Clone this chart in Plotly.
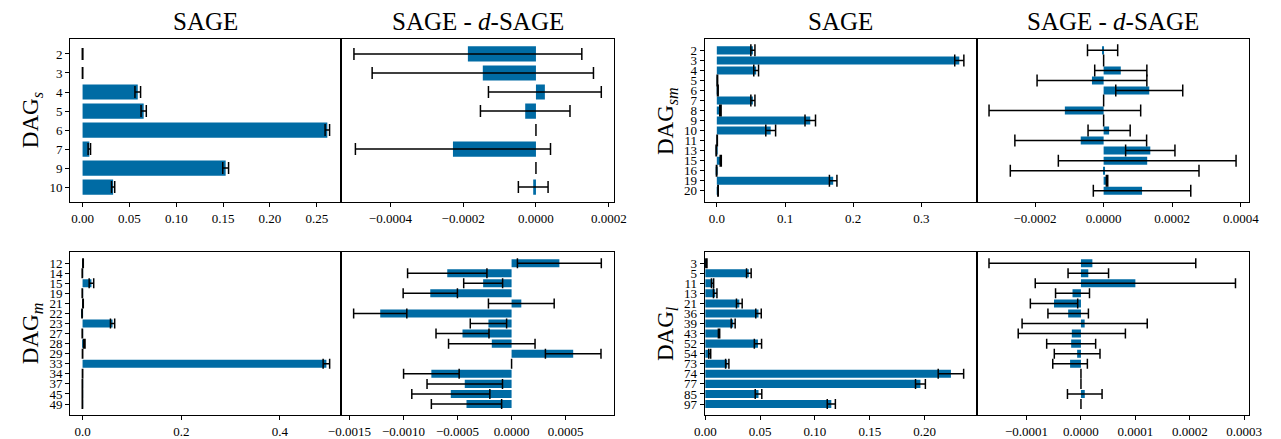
import plotly.graph_objects as go

# ---------------- data ----------------
# DAG_s
s_labels = ["2", "3", "4", "5", "6", "7", "9", "10"]
s_sage = [0.0, 0.0, 0.0589, 0.0652, 0.2612, 0.0072, 0.1527, 0.0326]
s_sage_err = [0.0003, 0.0002, 0.0030, 0.0028, 0.0024, 0.0013, 0.0031, 0.0017]
s_diff = [-0.000187, -0.000146, 0.0000245, -0.0000295, 0.0, -0.000228, 0.0, -0.0000075]
s_diff_err = [0.000313, 0.000304, 0.000155, 0.000123, 0.0, 0.000268, 0.0, 0.0000408]

# DAG_sm
sm_labels = ["2", "3", "4", "5", "6", "7", "8", "9", "10", "11", "13", "15", "16", "19", "20"]
sm_sage = [0.0529, 0.3555, 0.0577, 0.0008, 0.0015, 0.0529, 0.0053, 0.1370, 0.0790,
           0.0005, -0.0008, 0.0058, -0.0003, 0.1706, 0.0018]
sm_sage_err = [0.0030, 0.0067, 0.0035, 0.0004, 0.0005, 0.0030, 0.0010, 0.0077, 0.0072,
               0.0003, 0.0003, 0.0008, 0.0003, 0.0055, 0.0003]
sm_diff = [-0.000003, 0.0, 0.00005, -0.000034, 0.000133, 0.0, -0.000113, 0.0, 0.000016,
           -0.0000667, 0.000136, 0.000127, 0.000003, 0.00001, 0.000112]
sm_diff_err = [0.000044, 0.0, 0.000076, 0.00016, 0.0000976, 0.0, 0.000221, 0.0, 0.0000614,
               0.000192, 0.0000719, 0.000259, 0.000275, 0.000002, 0.000142]

# DAG_m
m_labels = ["12", "14", "15", "19", "21", "22", "23", "27", "28", "29", "33", "34", "37", "45", "49"]
m_sage = [0.001, -0.0005, 0.018, -0.0005, 0.001, -0.001, 0.0608, -0.0005, 0.0035, 0.0,
          0.494, 0.0, -0.0003, -0.0003, -0.0003]
m_sage_err = [0.0005, 0.0003, 0.0046, 0.0003, 0.0005, 0.0003, 0.0043, 0.0003, 0.0015, 0.0003,
              0.0066, 0.0003, 0.0003, 0.0003, 0.0003]
m_diff = [0.000442, -0.000595, -0.000263, -0.000752, 0.00009, -0.001215, -0.000214, -0.000454,
          -0.000183, 0.00057, 0.0, -0.000742, -0.000433, -0.000562, -0.000417]
m_diff_err = [0.000388, 0.000367, 0.00018, 0.000251, 0.000304, 0.000246, 0.000168, 0.000245,
              0.0004, 0.000257, 0.0, 0.000257, 0.000349, 0.000361, 0.000325]

# DAG_l
l_labels = ["3", "5", "11", "13", "21", "36", "39", "43", "52", "54", "73", "74", "77", "85", "97"]
l_sage = [0.001, 0.0397, 0.0066, 0.009, 0.031, 0.0485, 0.0254, 0.0125, 0.048, 0.004, 0.020,
          0.224, 0.1962, 0.0485, 0.1149]
l_sage_err = [0.0005, 0.0021, 0.0010, 0.0016, 0.0026, 0.0025, 0.0018, 0.0006, 0.0033, 0.0009,
              0.0015, 0.0116, 0.0045, 0.0030, 0.0037]
l_diff = [0.000021, 0.0000135, 0.0001, -0.0000155, -0.0000495, -0.0000235, 0.0000068, -0.0000168,
          -0.000018, -0.000007, -0.00002, 0.0, 0.0, 0.000007, 0.0]
l_diff_err = [0.00019, 0.0000372, 0.000184, 0.0000312, 0.0000435, 0.0000372, 0.000115, 0.0000985,
              0.000045, 0.000042, 0.0000318, 0.0, 0.0, 0.0000318, 0.0]

# ---------------- style / layout ----------------
BLUE = "#006BA4"
FONT = "Liberation Serif"
W, H = 1281, 439

panels = [
    dict(labels=s_labels, sage=s_sage, sage_err=s_sage_err, diff=s_diff, diff_err=s_diff_err,
         ylabel="DAG<sub><i>s</i></sub>", x0=58.3, x1=335, x2=613.3, top=39.3, bottom=204,
         srange=[-0.0133, 0.276], sdtick=0.05, sfmt=".2f",
         drange=[-0.000535, 0.000214], ddtick=0.0002, dfmt=".4f", cap=6, ylab_x=19, title=True),
    dict(labels=sm_labels, sage=sm_sage, sage_err=sm_sage_err, diff=sm_diff, diff_err=sm_diff_err,
         ylabel="DAG<sub><i>sm</i></sub>", x0=706, x1=984, x2=1261.7, top=39.3, bottom=204,
         srange=[-0.0178, 0.3815], sdtick=0.1, sfmt=".1f",
         drange=[-0.000369, 0.000424], ddtick=0.0002, dfmt=".4f", cap=6, ylab_x=667, title=True),
    dict(labels=m_labels, sage=m_sage, sage_err=m_sage_err, diff=m_diff, diff_err=m_diff_err,
         ylabel="DAG<sub><i>m</i></sub>", x0=58.3, x1=335, x2=613.3, top=254, bottom=419.3,
         srange=[-0.0252, 0.524], sdtick=0.2, sfmt=".1f",
         drange=[-0.001576, 0.000946], ddtick=0.0005, dfmt=".4f", cap=5, ylab_x=19, title=False),
    dict(labels=l_labels, sage=l_sage, sage_err=l_sage_err, diff=l_diff, diff_err=l_diff_err,
         ylabel="DAG<sub><i>l</i></sub>", x0=706, x1=984, x2=1261.7, top=254, bottom=419.3,
         srange=[-0.0006, 0.2478], sdtick=0.05, sfmt=".2f",
         drange=[-0.000191, 0.000309], ddtick=0.0001, dfmt=".4f", cap=5, ylab_x=667, title=False),
]

fig = go.Figure()
layout = dict(
    width=W, height=H,
    margin=dict(l=0, r=0, t=0, b=0),
    paper_bgcolor="white", plot_bgcolor="white",
    font=dict(family=FONT, size=13, color="black"),
    showlegend=False,
    annotations=[],
)

tickfont = dict(family=FONT, size=13, color="black")


def axis_common():
    return dict(showgrid=False, zeroline=False, showline=True, mirror=True,
                linecolor="black", linewidth=1, tickcolor="black", tickwidth=1,
                ticklen=4, tickfont=tickfont)


for i, p in enumerate(panels):
    n = len(p["labels"])
    pad = 0.4 + 0.05 * (n - 0.2)
    yrange = [n - 1 + pad, -pad]
    ydom = [1 - p["bottom"] / H, 1 - p["top"] / H]
    for j, kind in enumerate(["sage", "diff"]):
        k = 2 * i + j + 1
        xname = "xaxis" if k == 1 else f"xaxis{k}"
        yname = "yaxis" if k == 1 else f"yaxis{k}"
        xref = "x" if k == 1 else f"x{k}"
        yref = "y" if k == 1 else f"y{k}"
        if kind == "sage":
            dom = [p["x0"] / W, p["x1"] / W]
            xr, dt, fmt = p["srange"], p["sdtick"], p["sfmt"]
        else:
            dom = [p["x1"] / W, p["x2"] / W]
            xr, dt, fmt = p["drange"], p["ddtick"], p["dfmt"]
        xa = axis_common()
        xa.update(domain=dom, anchor=yref, range=xr, tick0=0, dtick=dt,
                  tickformat=fmt, ticks="outside")
        ya = axis_common()
        ya.update(domain=ydom, anchor=xref, type="category",
                  categoryorder="array", categoryarray=p["labels"],
                  tickmode="array", tickvals=p["labels"], ticktext=p["labels"],
                  range=yrange)
        if kind == "sage":
            ya.update(ticks="outside", showticklabels=True)
        else:
            ya.update(ticks="", showticklabels=False)
        layout[xname] = xa
        layout[yname] = ya

        fig.add_trace(go.Bar(
            x=p[kind], y=p["labels"], orientation="h", width=0.8,
            marker=dict(color=BLUE, line=dict(width=0)),
            error_x=dict(type="data", array=p[kind + "_err"], visible=True,
                         color="black", thickness=1.5, width=p["cap"]),
            xaxis=xref, yaxis=yref, hoverinfo="skip",
        ))

        if p["title"]:
            txt = "SAGE" if kind == "sage" else "SAGE - <i>d</i>-SAGE"
            layout["annotations"].append(dict(
                text=txt, x=(dom[0] + dom[1]) / 2, y=1 - 22 / H,
                xref="paper", yref="paper", xanchor="center", yanchor="middle",
                showarrow=False, font=dict(family=FONT, size=25, color="black")))

    layout["annotations"].append(dict(
        text=p["ylabel"], x=p["ylab_x"] / W, y=(ydom[0] + ydom[1]) / 2,
        xref="paper", yref="paper", xanchor="center", yanchor="middle",
        textangle=-90, showarrow=False,
        font=dict(family=FONT, size=23, color="black")))

fig.update_layout(**layout)
fig.write_html(
    "out.html",
    config={"displayModeBar": False},
    post_script="document.body.style.margin='0';document.body.style.overflow='hidden';",
)
